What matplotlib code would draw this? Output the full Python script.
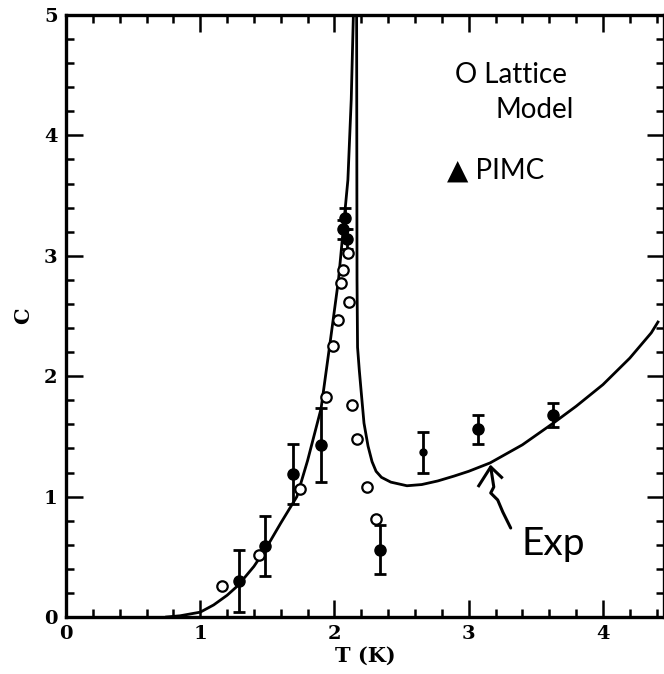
"""Specific heat of liquid 4He: experiment vs lattice model vs PIMC."""
import matplotlib
matplotlib.use("Agg")
import matplotlib.pyplot as plt
from matplotlib.ticker import MultipleLocator

exp_low_T = [0.75, 0.85, 1.0, 1.1, 1.2, 1.28, 1.4, 1.49, 1.6, 1.72, 1.8, 1.90,
             1.97, 2.03, 2.10, 2.125, 2.142]
exp_low_C = [0.0, 0.01, 0.04, 0.10, 0.18, 0.26, 0.42, 0.57, 0.78, 1.0, 1.3, 1.73,
             2.30, 2.8, 3.63, 4.3, 5.05]
exp_high_T = [2.165, 2.168, 2.172, 2.185, 2.20, 2.22, 2.25, 2.28, 2.31, 2.35, 2.42,
              2.54, 2.65, 2.77, 2.89, 3.0, 3.16, 3.4, 3.63, 3.8, 4.0, 4.2, 4.36, 4.41]
exp_high_C = [5.05, 2.8, 2.24, 2.05, 1.86, 1.61, 1.42, 1.29, 1.21, 1.16, 1.12,
              1.09, 1.10, 1.13, 1.17, 1.21, 1.28, 1.43, 1.61, 1.75, 1.93, 2.15, 2.36, 2.45]

# lattice model (open circles)
lat_T = [1.16, 1.44, 1.74, 1.94, 1.99, 2.03, 2.045, 2.06, 2.10, 2.11, 2.13, 2.17, 2.24, 2.31]
lat_C = [0.26, 0.515, 1.06, 1.83, 2.25, 2.47, 2.77, 2.88, 3.02, 2.62, 1.76, 1.48, 1.08, 0.81]

# PIMC (filled circles with error bars)
pimc_T = [1.29, 1.48, 1.69, 1.90, 2.06, 2.08, 2.09, 2.34, 3.07, 3.63]
pimc_C = [0.30, 0.59, 1.19, 1.43, 3.22, 3.31, 3.14, 0.56, 1.56, 1.68]
pimc_err = [0.26, 0.25, 0.25, 0.31, 0.08, 0.09, 0.08, 0.20, 0.12, 0.10]
# one small PIMC point
pimc_small_T = [2.66]
pimc_small_C = [1.37]
pimc_small_err = [0.17]

# hand-drawn squiggly arrow pointing at the curve
arrow_T = [3.164, 3.187, 3.164, 3.216, 3.254, 3.313]
arrow_C = [1.246, 1.080, 1.030, 0.972, 0.872, 0.739]
head_T = [3.075, 3.164, 3.245]
head_C = [1.09, 1.246, 1.16]

fig = plt.figure(figsize=(6.64, 6.74), dpi=100)
ax = fig.add_axes([0.0994, 0.0846, 0.9006, 0.8931])

ax.plot(exp_low_T, exp_low_C, color="black", lw=2.0)
ax.plot(exp_high_T, exp_high_C, color="black", lw=2.0)

ax.plot(lat_T, lat_C, "o", mfc="white", mec="black", mew=1.6, ms=7.5, zorder=4)

ax.errorbar(pimc_T, pimc_C, yerr=pimc_err, fmt="o", color="black", ms=8,
            elinewidth=2, capsize=4.5, capthick=2, zorder=3)
ax.errorbar(pimc_small_T, pimc_small_C, yerr=pimc_small_err, fmt="o", color="black",
            ms=5, elinewidth=2, capsize=4.5, capthick=2, zorder=3)

ax.plot(arrow_T, arrow_C, color="black", lw=2.2, solid_capstyle="round")
ax.plot(head_T, head_C, color="black", lw=2.2, solid_joinstyle="round")

hand = ["Lato", "DejaVu Sans"]
ax.text(2.90, 4.50, "O Lattice", fontsize=20, family=hand, va="center", ha="left")
ax.text(3.20, 4.21, "Model", fontsize=20, family=hand, va="center", ha="left")
ax.text(2.84, 3.71, "▲ PIMC", fontsize=20, family=hand, va="center", ha="left")
ax.text(3.39, 0.61, "Exp", fontsize=28, family=hand, va="center", ha="left")

ax.set_xlim(0, 4.455)
ax.set_ylim(0, 5)
ax.xaxis.set_major_locator(MultipleLocator(1))
ax.xaxis.set_minor_locator(MultipleLocator(0.2))
ax.yaxis.set_major_locator(MultipleLocator(1))
ax.yaxis.set_minor_locator(MultipleLocator(0.2))
ax.tick_params(which="both", direction="in", top=True, right=True, width=1.8, color="black")
ax.tick_params(which="major", length=12, pad=6)
ax.tick_params(which="minor", length=6)
for s in ax.spines.values():
    s.set_linewidth(2.4)

for lab in ax.get_xticklabels() + ax.get_yticklabels():
    lab.set_family("DejaVu Serif")
    lab.set_fontweight("bold")
    lab.set_fontsize(14)

ax.set_xlabel("T (K)", family="DejaVu Serif", fontweight="bold", fontsize=15, labelpad=2)
ax.set_ylabel("C", family="DejaVu Serif", fontweight="bold", fontsize=15, labelpad=8)

fig.savefig("out.png", dpi=100)
